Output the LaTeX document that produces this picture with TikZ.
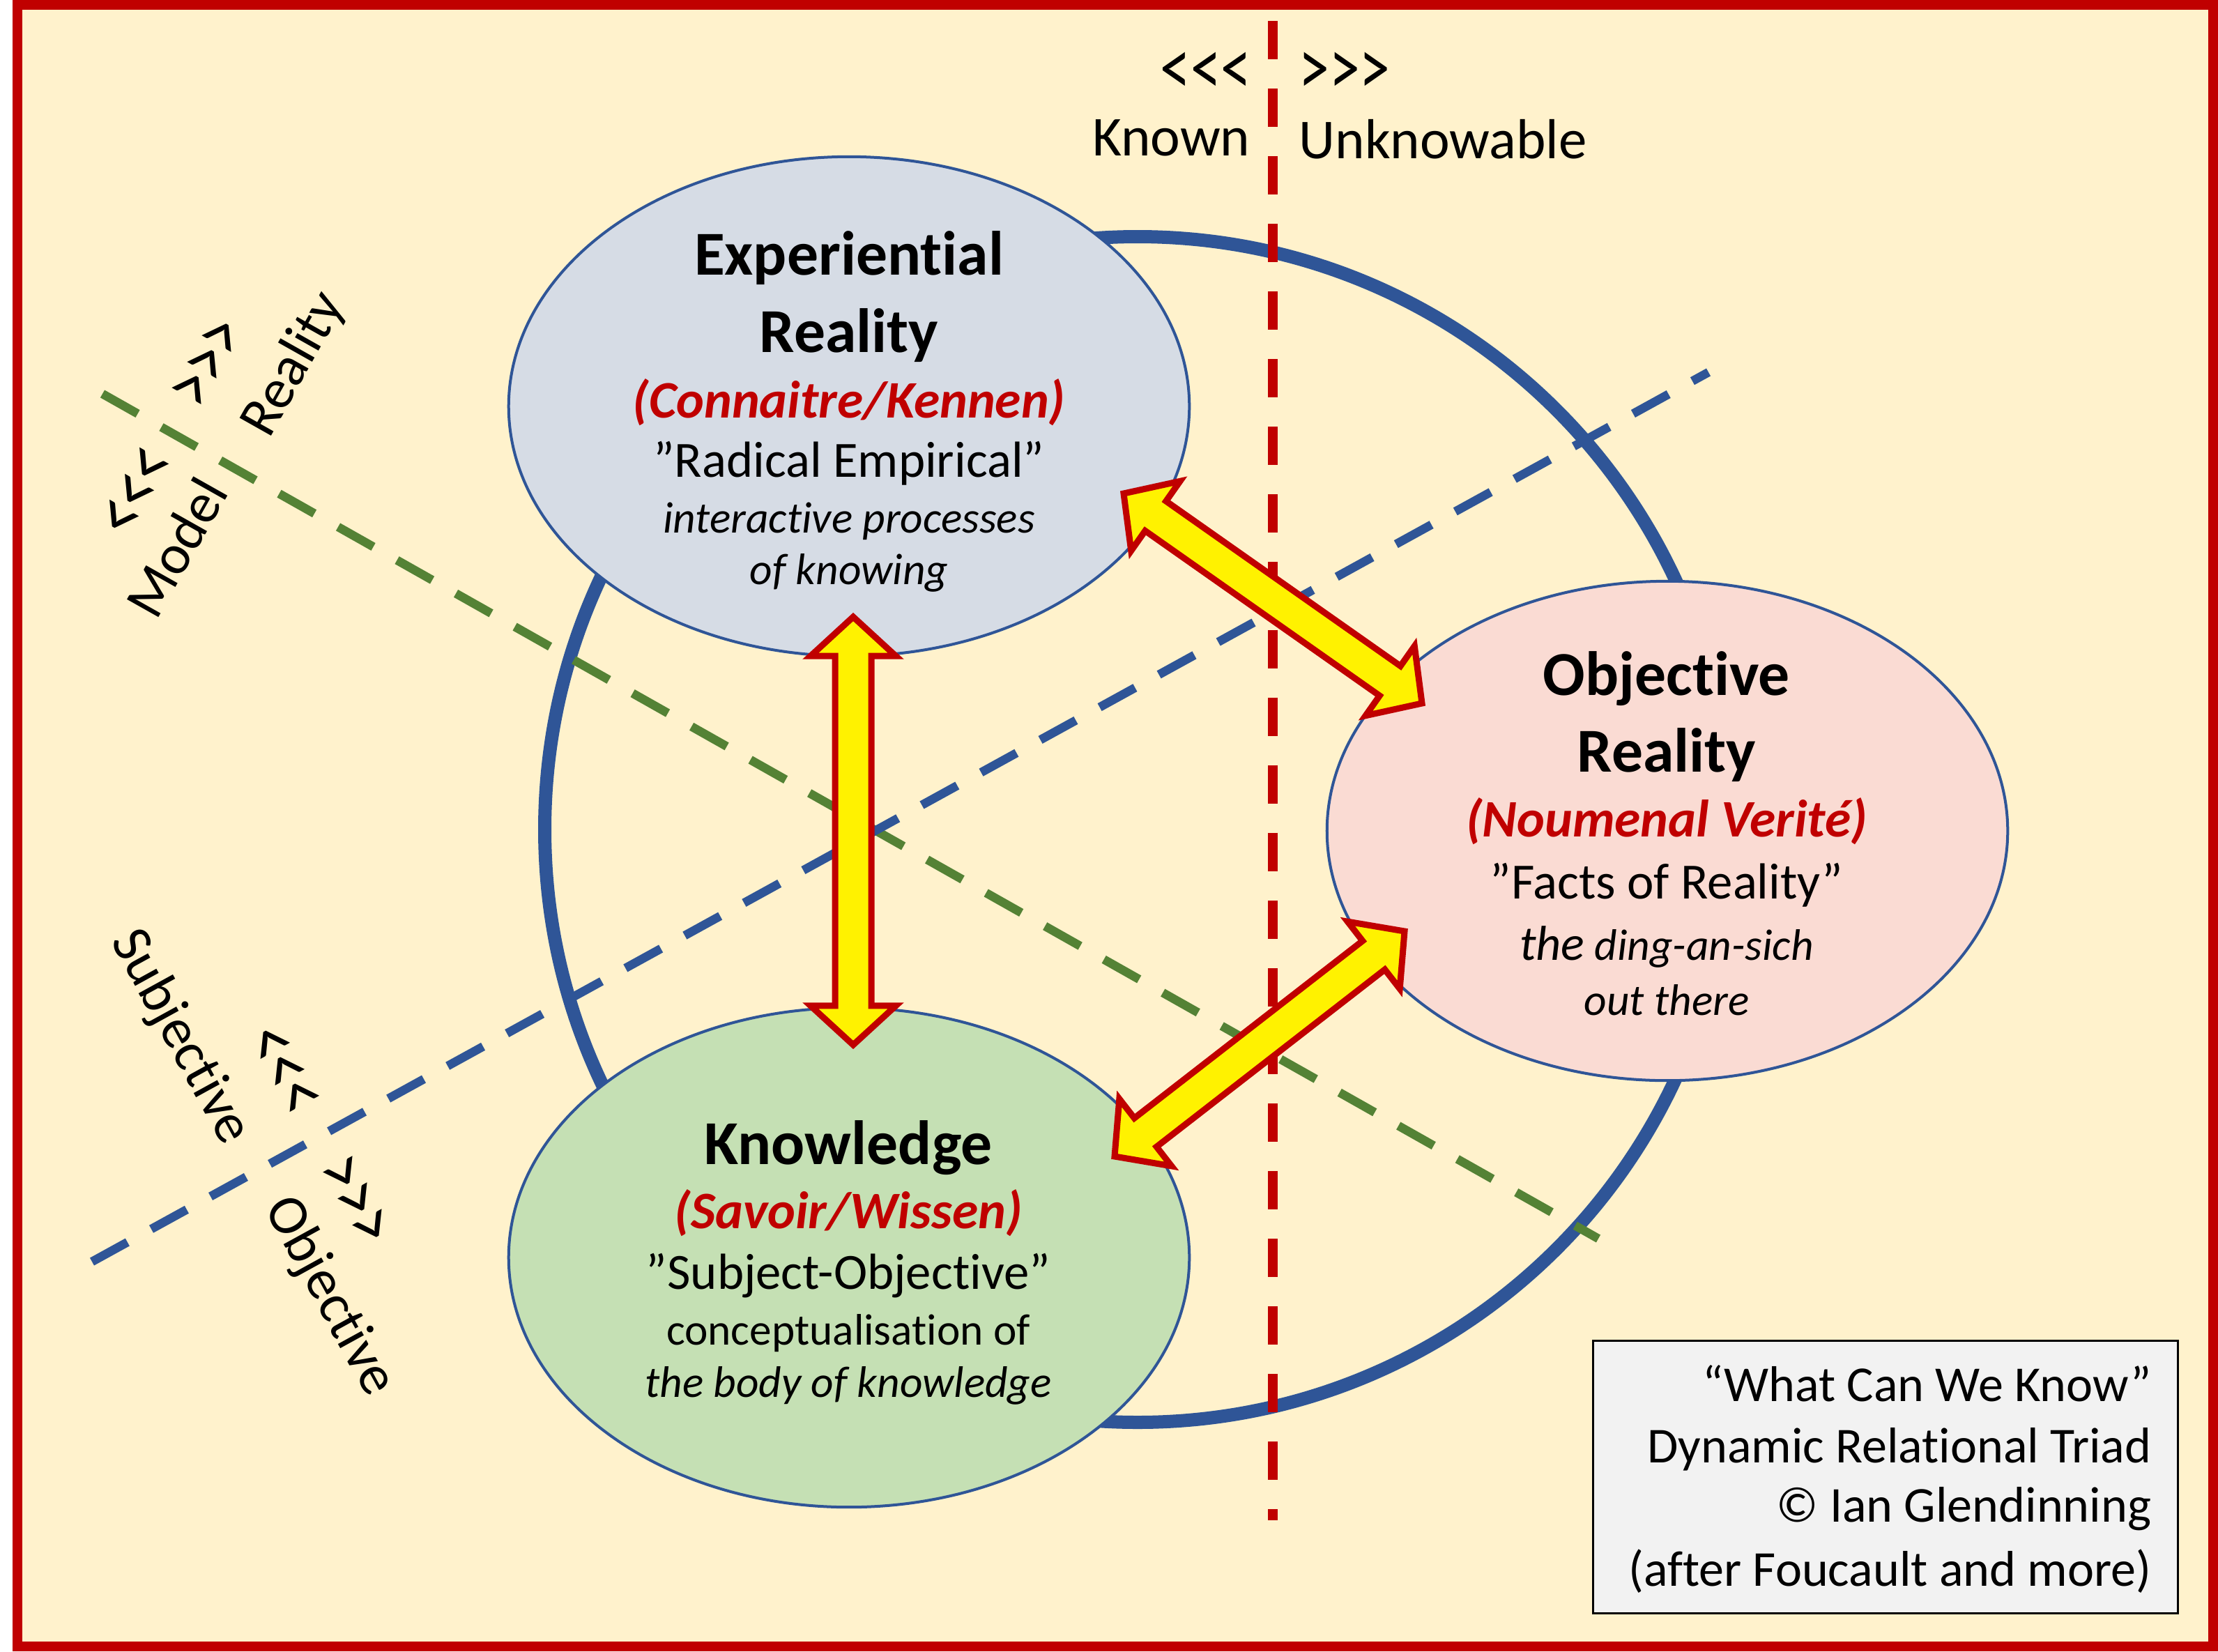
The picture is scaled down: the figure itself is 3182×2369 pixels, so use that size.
\documentclass[tikz,border=0pt]{standalone}
\usepackage{graphicx}
\usepackage{fontspec}
\setmainfont{Carlito}[Ligatures=NoCommon]
\usetikzlibrary{calc,shapes.geometric}
\definecolor{cream}{HTML}{FFF2CC}
\definecolor{framered}{HTML}{C00000}
\definecolor{dblue}{HTML}{2F5597}
\definecolor{dgreen}{HTML}{548235}
\definecolor{efill}{HTML}{D6DCE5}
\definecolor{ofill}{HTML}{FADBD3}
\definecolor{kfill}{HTML}{C5E0B4}
\definecolor{lgray}{HTML}{F2F2F2}
\newcommand\fsz[1]{\fontsize{#1}{#1}\selectfont}
\newcommand\lll{\scalebox{1.08}[1.45]{<\kern0pt<\kern0pt<}}
\newcommand\ggg{\scalebox{1.08}[1.45]{>\kern0pt>\kern0pt>}}
\newcommand\hl{5.6mm}
\newcommand\hw{6.1mm}
\newcommand\sw{2.6mm}
\newcommand\dblarrow[2]{%
  \coordinate (#1h) at ($(#1)!\hl!(#2)$);
  \coordinate (#2h) at ($(#2)!\hl!(#1)$);
  \draw[arrowsty] (#1) -- ($(#1h)!\hw!90:(#2)$) -- ($(#1h)!\sw!90:(#2)$)
    -- ($(#2h)!\sw!-90:(#1)$) -- ($(#2h)!\hw!-90:(#1)$) -- (#2)
    -- ($(#2h)!\hw!90:(#1)$) -- ($(#2h)!\sw!90:(#1)$)
    -- ($(#1h)!\sw!-90:(#2)$) -- ($(#1h)!\hw!-90:(#2)$) -- cycle;}
\tikzset{
  ring/.style={circle, draw=dblue, line width=1.9mm, minimum size=17cm, inner sep=0pt},
  ell/.style={ellipse, draw=dblue, line width=0.4mm, minimum width=9.76cm, minimum height=7.16cm, inner sep=0pt},
  dashline/.style={line width=1.25mm, dash pattern=on 5.8mm off 3.9mm},
  arrowsty/.style={draw=framered, fill=yellow, line width=0.9mm, line join=miter},
  title/.style={anchor=base, inner sep=0pt, font=\fsz{25.5}\bfseries},
  subt/.style={anchor=base, inner sep=0pt, text=framered, font=\fsz{21.5}\bfseries\itshape},
  quot/.style={anchor=base, inner sep=0pt, font=\fsz{20.7}},
  smallit/.style={anchor=base, inner sep=0pt, font=\fsz{18}\itshape},
  smallrm/.style={anchor=base, inner sep=0pt, font=\fsz{18}},
  lbl/.style={inner sep=0pt, font=\fsz{23}},
  legend/.style={anchor=base east, inner sep=0pt, font=\fsz{20.5}},
}
\begin{document}
\begin{tikzpicture}[x=0.01cm, y=-0.01cm]
\useasboundingbox (0,0) rectangle (3182,2369);
% background and frame
\fill[white] (0,0) rectangle (3182,2369);
\fill[cream] (32,14) rectangle (3168,2355);
\draw[framered, line width=1.4mm] (25,7) rectangle (3175,2362);

% big ring
\node[ring] (R) at (1632,1190) {};

% dashed dividing lines
\coordinate (g1) at (147,565);
\coordinate (g2) at (2293,1777);
\coordinate (b1) at (132,1810);
\coordinate (b2) at (2451,534);
\coordinate (r1) at (1826,30);
\coordinate (r2) at (1826,2181);
\draw[dashline, dgreen] (g1) -- (g2);
\draw[dashline, dblue] (b1) -- (b2);
\draw[framered, line width=1.4mm, dash pattern=on 5.5mm off 4.2mm] (r1) -- (r2);

% ellipses
\node[ell, fill=efill] (E) at (1218,583) {};
\node[ell, fill=ofill] (O) at (2392,1192) {};
\node[ell, fill=kfill] (K) at (1218,1804) {};

% double arrows
\coordinate (v1) at (1224,885);
\coordinate (v2) at (1224,1499);
\coordinate (d1) at (1612,708);
\coordinate (d2) at (2040,1009);
\coordinate (d3) at (2015,1336);
\coordinate (d4) at (1599,1659);
\dblarrow{v1}{v2}
\dblarrow{d1}{d2}
\dblarrow{d3}{d4}

% Experiential Reality
\node[title] (e1) at (1218,394) {Experiential};
\node[title] (e2) at (1218,505) {Reality};
\node[subt] (e3) at (1218,599) {(Connaitre/Kennen)};
\node[quot] (e4) at (1218,684) {”Radical Empirical”};
\node[smallit] (e5) at (1218,764) {interactive processes};
\node[smallit] (e6) at (1218,838) {of knowing};

% Objective Reality
\node[title] (o1) at (2391,997) {Objective};
\node[title] (o2) at (2391,1107) {Reality};
\node[subt] (o3) at (2391,1200) {(Noumenal Verité)};
\node[quot] (o4) at (2391,1289) {”Facts of Reality”};
\node[smallit] (o5) at (2391,1377) {{\fsz{20}the} ding-an-sich};
\node[smallit] (o6) at (2391,1456) {out there};

% Knowledge
\node[title] (k1) at (1217,1670) {Knowledge};
\node[subt] (k2) at (1217,1762) {(Savoir/Wissen)};
\node[quot] (k3) at (1217,1849) {”Subject-Objective”};
\node[smallrm] (k4) at (1217,1929) {conceptualisation of};
\node[smallit] (k5) at (1217,2004) {the body of knowledge};

% top labels
\node[lbl, anchor=base east] (t1) at (1796,136) {\lll};
\node[lbl, anchor=base west] (t2) at (1863,136) {\ggg};
\node[lbl, anchor=base east] (t3) at (1794,223) {Known};
\node[lbl, anchor=base west] (t4) at (1863,227) {Unknowable};

% green line labels
\node[lbl, rotate=60.6] (m1) at (199,707) {\lll};
\node[lbl, rotate=60.6] (m2) at (253,785) {Model};
\node[lbl, rotate=60.6] (m3) at (302,522) {\ggg};
\node[lbl, rotate=60.6] (m4) at (422,523) {Reality};

% blue line labels
\node[lbl, rotate=-61.2] (s1) at (404,1537) {\lll};
\node[lbl, rotate=-61.2] (s2) at (258,1488) {Subjective};
\node[lbl, rotate=-61.2] (s3) at (507,1724) {\ggg};
\node[lbl, rotate=-61.2] (s4) at (472,1860) {Objective};

% legend
\node[draw=black, fill=lgray, line width=0.3mm, minimum width=8.38cm, minimum height=3.9cm, inner sep=0pt] (L) at (2705,2119) {};
\node[legend] (l1) at (3087,2010) {“What Can We Know”};
\node[legend] (l2) at (3087,2098) {Dynamic Relational Triad};
\node[legend] (l3) at (3087,2183) {© Ian Glendinning};
\node[legend] (l4) at (3087,2275) {(after Foucault and more)};
\end{tikzpicture}
\end{document}
